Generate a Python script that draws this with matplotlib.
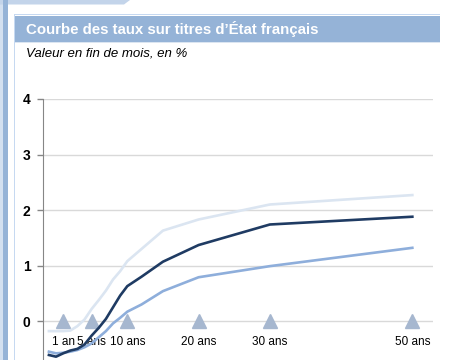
import numpy as np
import matplotlib
matplotlib.use('Agg')
import matplotlib.pyplot as plt
from matplotlib.patches import Rectangle, Polygon

plt.rcParams['font.family'] = ['Liberation Sans', 'DejaVu Sans']

# maturities (years) and month-end yields (%)
maturites = [-1, 0, 1, 2, 3, 4, 5, 6, 7, 8, 9, 10, 12, 15, 20, 30, 50]
taux_clair = [-0.18, -0.18, -0.18, -0.17, -0.09, 0.03, 0.22, 0.38, 0.55, 0.75, 0.90, 1.08, 1.30, 1.63, 1.83, 2.10, 2.27]
taux_fonce = [-0.61, -0.64, -0.58, -0.53, -0.50, -0.42, -0.26, -0.12, 0.04, 0.25, 0.46, 0.63, 0.80, 1.07, 1.37, 1.74, 1.88]
taux_moyen = [-0.55, -0.58, -0.57, -0.55, -0.52, -0.47, -0.40, -0.29, -0.18, -0.04, 0.06, 0.17, 0.30, 0.54, 0.79, 0.99, 1.32]

reperes = [1, 5, 10, 20, 30, 50]
reperes_labels = ['1 an', '5 ans', '10 ans', '20 ans', '30 ans', '50 ans']

W, H = 449, 360
fig = plt.figure(figsize=(W / 100, H / 100), dpi=100)

def box(x0, y0, x1, y1):
    # pixel box (top-left origin) -> figure coords
    return (x0 / W, 1 - y1 / H), (x1 - x0) / W, (y1 - y0) / H

# decorative frame
(x, y), w, h = box(0, 0, 3, 360)
fig.patches.append(Rectangle((x, y), w, h, transform=fig.transFigure, color='#d3e0f0', lw=0))
fig.patches.append(Polygon([(0, 1), (130 / W, 1), (124 / W, 1 - 4.5 / H), (0, 1 - 4.5 / H)],
                           closed=True, transform=fig.transFigure, color='#c3d4ea', lw=0))
(x, y), w, h = box(3, 0, 7.5, 360)
fig.patches.append(Rectangle((x, y), w, h, transform=fig.transFigure, color='#95b3d7', lw=0))
(x, y), w, h = box(14, 14, 15.2, 360)
fig.patches.append(Rectangle((x, y), w, h, transform=fig.transFigure, color='#c6d9f1', lw=0))
(x, y), w, h = box(14, 14, 440, 15.2)
fig.patches.append(Rectangle((x, y), w, h, transform=fig.transFigure, color='#c6d9f1', lw=0))
(x, y), w, h = box(15, 15.5, 440, 41.5)
fig.patches.append(Rectangle((x, y), w, h, transform=fig.transFigure, color='#95b3d7', lw=0))
(x, y), w, h = box(15, 42, 440, 43)
fig.patches.append(Rectangle((x, y), w, h, transform=fig.transFigure, color='#dbe5f1', lw=0))

fig.text(26 / W, 1 - 29 / H, "Courbe des taux sur titres d\u2019\u00c9tat fran\u00e7ais",
         color='white', fontsize=10.8, fontweight='bold', va='center', ha='left')
fig.text(26 / W, 1 - 54 / H, "Valeur en fin de mois, en %",
         color='black', fontsize=9.5, style='italic', va='center', ha='left')

ax = fig.add_axes([43 / W, 0, 390 / W, 1 - 99 / H])
ax.set_xlim(-1.83, 52.9)
ax.set_ylim(-0.70, 4.0)

ax.set_yticks([0, 1, 2, 3, 4])
ax.yaxis.grid(True, color='#d9d9d9', lw=1)
ax.set_axisbelow(True)
ax.tick_params(axis='y', direction='out', length=4, color='#868686', width=1, pad=5,
               labelsize=10)
for lab in ax.get_yticklabels():
    lab.set_fontweight('bold')
ax.set_xticks([])
for s in ['top', 'right', 'bottom']:
    ax.spines[s].set_visible(False)
ax.spines['left'].set_color('#868686')

ax.plot(reperes, [0] * len(reperes), linestyle='none', marker='^', markersize=10,
        color='#a6b7cf', zorder=2)
for xv, lab in zip(reperes, reperes_labels):
    ax.annotate(lab, xy=(xv, 0), xytext=(0, -15), textcoords='offset points',
                ha='center', va='center', fontsize=8.5, annotation_clip=False)

ax.plot(maturites, taux_clair, color='#dbe5f1', lw=1.9, zorder=3)
ax.plot(maturites, taux_moyen, color='#8eaedb', lw=1.9, zorder=3)
ax.plot(maturites, taux_fonce, color='#1f3b63', lw=1.9, zorder=4)

fig.savefig('out.png', dpi=100)
